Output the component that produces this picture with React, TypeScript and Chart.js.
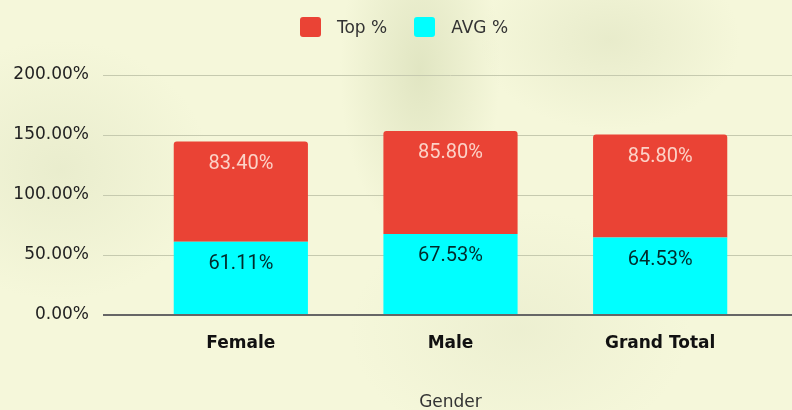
import React, { useEffect, useRef } from "react";
import { Chart, registerables } from "chart.js";

Chart.register(...registerables);

const categories = ["Female", "Male", "Grand Total"];
const avgValues = [61.11, 67.53, 64.53];
const topValues = [83.4, 85.8, 85.8];
const avgName = "AVG %";
const topName = "Top %";
const xTitle = "Gender";
const yMin = 0;
const yMax = 200;
const yStep = 50;

const RED = "#EA4335";
const CYAN = "#00FFFF";
const GRID = "#c6caaf";
const ZERO = "#666666";

const legendItems = [
  { name: topName, color: RED },
  { name: avgName, color: CYAN },
];

const valueLabels = {
  id: "valueLabels",
  afterDatasetsDraw(chart: any) {
    const ctx = chart.ctx;
    chart.data.datasets.forEach((ds: any, i: number) => {
      const meta = chart.getDatasetMeta(i);
      if (meta.hidden) return;
      meta.data.forEach((el: any, j: number) => {
        const v = ds.data[j];
        ctx.save();
        ctx.font = "20px Roboto";
        ctx.fillStyle = ds.labelColor;
        ctx.textAlign = "center";
        ctx.textBaseline = "middle";
        ctx.fillText(v.toFixed(2) + "%", el.x, el.y + 22);
        ctx.restore();
      });
    });
  },
};

export default function App() {
  const ref = useRef<HTMLCanvasElement>(null);
  useEffect(() => {
    if (!ref.current) return;
    const gridColor = (c: any) => (c.tick && c.tick.value === 0 ? ZERO : GRID);
    const gridWidth = (c: any) => (c.tick && c.tick.value === 0 ? 2 : 1);
    const chart = new Chart(ref.current, {
      type: "bar",
      data: {
        labels: categories,
        datasets: [
          {
            label: avgName,
            data: avgValues,
            backgroundColor: CYAN,
            borderWidth: 0,
            barPercentage: 0.8,
            categoryPercentage: 0.8,
            labelColor: "rgba(0,20,20,0.9)",
          } as any,
          {
            label: topName,
            data: topValues,
            backgroundColor: RED,
            borderWidth: 0,
            barPercentage: 0.8,
            categoryPercentage: 0.8,
            borderRadius: { topLeft: 3, topRight: 3, bottomLeft: 0, bottomRight: 0 },
            borderSkipped: false,
            labelColor: "rgba(255,235,225,0.85)",
          } as any,
        ],
      },
      options: {
        animation: false,
        responsive: false,
        layout: { padding: { top: 67, left: 0, right: 0, bottom: 0 } },
        plugins: {
          legend: { display: false },
          tooltip: { enabled: false },
        },
        scales: {
          x: {
            stacked: true,
            grid: { display: false },
            border: { display: false },
            ticks: {
              color: "#111",
              padding: 10,
              font: { family: "DejaVu Sans", size: 17, weight: "bold" },
            },
            title: {
              display: true,
              text: xTitle,
              color: "#333",
              font: { family: "DejaVu Sans", size: 17 },
              padding: { top: 20, bottom: 7 },
            },
            afterFit: (s: any) => {
              s.height = 105;
            },
          },
          y: {
            stacked: true,
            min: yMin,
            max: yMax,
            ticks: {
              stepSize: yStep,
              padding: 14,
              color: "#222",
              font: { family: "DejaVu Sans", size: 17 },
              callback: (v: any) => Number(v).toFixed(2) + "%",
            },
            grid: {
              color: gridColor,
              tickColor: gridColor,
              lineWidth: gridWidth,
              tickLength: 33,
            },
            border: { display: false },
            afterFit: (s: any) => {
              s.width = 128;
            },
          },
          y2: {
            position: "right",
            min: yMin,
            max: yMax,
            ticks: { display: false, stepSize: yStep },
            grid: {
              drawOnChartArea: false,
              color: gridColor,
              tickColor: gridColor,
              lineWidth: gridWidth,
              tickLength: 35,
            },
            border: { display: false },
            afterFit: (s: any) => {
              s.width = 35;
            },
          },
        },
      } as any,
      plugins: [valueLabels],
    });
    return () => chart.destroy();
  }, []);

  return (
    <div
      style={{
        position: "fixed",
        left: 0,
        top: 0,
        width: 792,
        height: 410,
        overflow: "hidden",
        background:
          "radial-gradient(ellipse 80px 170px at 420px 70px, rgba(200,208,165,0.45), rgba(200,208,165,0) 100%)," +
          "radial-gradient(ellipse 130px 90px at 610px 40px, rgba(208,214,176,0.35), rgba(208,214,176,0) 100%)," +
          "radial-gradient(ellipse 150px 130px at 60px 170px, rgba(212,218,182,0.35), rgba(212,218,182,0) 100%)," +
          "radial-gradient(ellipse 170px 120px at 520px 330px, rgba(218,222,188,0.3), rgba(218,222,188,0) 100%)," +
          "#f5f7da",
      }}
    >
      <div style={{ position: "absolute", left: 8, top: 8, width: 792, height: 412 }}>
        <canvas ref={ref} width={792} height={412} style={{ display: "block" }} />
        <div
          style={{
            position: "absolute",
            left: 0,
            top: 9,
            width: 792,
            height: 20,
            display: "flex",
            justifyContent: "center",
            alignItems: "center",
            fontFamily: "DejaVu Sans",
            fontSize: 17,
            lineHeight: "20px",
            color: "#333",
          }}
        >
          {legendItems.map((it, i) => (
            <div
              key={it.name}
              style={{
                display: "flex",
                alignItems: "center",
                marginRight: i < legendItems.length - 1 ? 27 : 0,
              }}
            >
              <span
                style={{
                  display: "inline-block",
                  width: 21,
                  height: 20,
                  borderRadius: 3,
                  background: it.color,
                  marginRight: 16,
                }}
              />
              <span style={{ whiteSpace: "nowrap" }}>{it.name}</span>
            </div>
          ))}
        </div>
      </div>
    </div>
  );
}
